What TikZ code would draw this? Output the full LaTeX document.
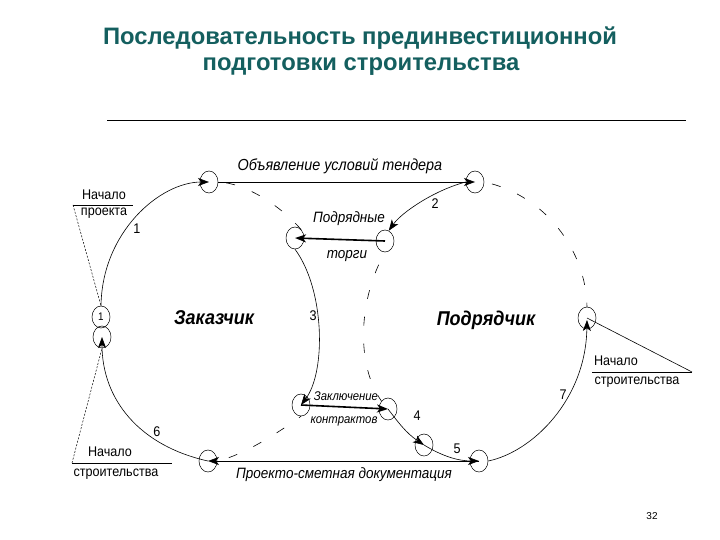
\documentclass[tikz,border=0pt]{standalone}
\usepackage{fontspec}
\setmainfont{Liberation Sans}
\newfontfamily\dfont[FakeStretch=0.9]{Liberation Sans}
\usetikzlibrary{shapes.geometric,arrows.meta}
\definecolor{titlecol}{RGB}{20,95,95}
\tikzset{
  ring/.style={draw, ellipse, minimum width=18pt, minimum height=22pt, inner sep=0pt, line width=0.5pt},
  flow/.style={line width=0.6pt, -{Stealth[length=11pt,width=8pt,inset=3pt]}},
  thickflow/.style={line width=1.6pt, -{Stealth[length=11pt,width=8pt,inset=3pt]}},
  bound/.style={line width=0.6pt, dash pattern=on 9pt off 18pt},
  lead/.style={line width=0.5pt, dash pattern=on 2pt off 1.5pt},
  lbl/.style={font=\dfont\fontsize{15}{17}\selectfont\itshape, inner sep=1pt},
  nlbl/.style={font=\dfont\fontsize{14}{16}\selectfont, inner sep=1pt},
  big/.style={font=\dfont\fontsize{20}{23}\selectfont\bfseries\itshape, inner sep=1pt},
  ttl/.style={font=\fontsize{23.8}{28}\selectfont\bfseries, text=titlecol, inner sep=0pt}
}
\begin{document}
\begin{tikzpicture}[x=1pt,y=-1pt]
\useasboundingbox (0,0) rectangle (720,540);
% title
\node[ttl] (t1) at (360,38) {Последовательность прединвестиционной};
\node[ttl] (t2) at (361,67) {подготовки строительства};
\coordinate (hl) at (107,120);
\coordinate (hr) at (686,120);
\draw[line width=0.8pt] (hl) -- (hr);
\node[font=\fontsize{10}{12}\selectfont] (pg) at (652,516) {32};

% event circles
\node[ring] (A) at (209,182) {};
\node[ring] (B) at (475,182) {};
\node[ring] (C) at (385,241) {};
\node[ring] (D) at (295,238) {};
\node[ring] (E) at (301,405) {};
\node[ring] (F) at (388,409) {};
\node[ring] (G) at (424,445) {};
\node[ring] (H) at (479,461) {};
\node[ring] (I) at (208,461) {};
\node[ring] (J) at (587,318) {};
\node[ring, font=\dfont\fontsize{11}{12}\selectfont] (P1) at (101,317) {1};
\node[ring] (P2) at (102,337) {};

% solid connectors
\draw[flow] (P1.north) .. controls (102,232) and (160,182) .. (A.center);
\draw[flow] (A.east) -- (B.center);
\draw[flow] (B.west) .. controls (435,190) and (402,212) .. (C.70);
\draw[thickflow] (C.center) -- (D.center);
\draw[flow] (D.south) .. controls (325,290) and (326,372) .. (E.center);
\draw[thickflow] (E.center) -- (F.center);
\draw[flow] (F.center) .. controls (398,422) and (406,433) .. (G.center);
\draw[flow] (G.center) .. controls (442,456) and (458,461) .. (H.center);
\draw[flow] (H.center) -- (I.center);
\draw[flow] (I.center) .. controls (140,446) and (102,400) .. (P2.center);
\draw[flow, shorten >=2pt] (H.east) .. controls (532,452) and (586,400) .. (J.center);

% dashed boundaries
\draw[bound, dash phase=-8pt] (A.east) .. controls (245,183) and (280,205) .. (D.north east);
\draw[bound, dash phase=-12pt] (I.east) .. controls (245,455) and (282,430) .. (E.south);
\draw[bound, dash phase=-8pt] (B.east) .. controls (545,195) and (586,250) .. (J.north);
\draw[bound, dash phase=-14pt] (C.south) .. controls (358,300) and (356,365) .. (F.north west);

% start labels
\coordinate (u1l) at (73,205);
\coordinate (u1r) at (133,205);
\draw[line width=0.6pt] (u1l) -- (u1r);
\node[nlbl] (np1) at (104,195) {Начало};
\node[nlbl] (np2) at (104,213) {проекта};
\draw[lead] (u1l) -- (P1.north);

\coordinate (u2l) at (72,463);
\coordinate (u2r) at (172,463);
\draw[line width=0.6pt] (u2l) -- (u2r);
\node[nlbl] (ns1) at (110,452) {Начало};
\node[nlbl] (ns2) at (116,474) {строительства};
\draw[lead] (u2l) -- (P2.south);

\coordinate (u3l) at (592,372);
\coordinate (u3r) at (692,372);
\draw[line width=0.6pt] (u3l) -- (u3r);
\node[nlbl] (nr1) at (616,361) {Начало};
\node[nlbl] (nr2) at (637,382) {строительства};
\draw[line width=0.6pt] (J.center) -- (u3r);

% texts
\node[lbl, font=\dfont\fontsize{16}{18}\selectfont\itshape] (l1) at (340,166) {Объявление условий тендера};
\node[lbl] (l2) at (349,219) {Подрядные};
\node[lbl] (l3) at (347,256) {торги};
\node[lbl, font=\dfont\fontsize{12.6}{14}\selectfont\itshape] (l4) at (346,396) {Заключение};
\node[lbl, font=\dfont\fontsize{12.6}{14}\selectfont\itshape] (l5) at (344,421) {контрактов};
\node[lbl] (l6) at (344,475) {Проекто-сметная документация};
\node[big] (zk) at (214,318) {Заказчик};
\node[big] (pd) at (486,320) {Подрядчик};

\node[nlbl] (k1) at (137,229) {1};
\node[nlbl] (k2) at (435,204) {2};
\node[nlbl] (k3) at (313,316) {3};
\node[nlbl] (k4) at (417,416) {4};
\node[nlbl] (k5) at (457,449) {5};
\node[nlbl] (k6) at (157,432) {6};
\node[nlbl] (k7) at (563,395) {7};
\end{tikzpicture}
\end{document}
